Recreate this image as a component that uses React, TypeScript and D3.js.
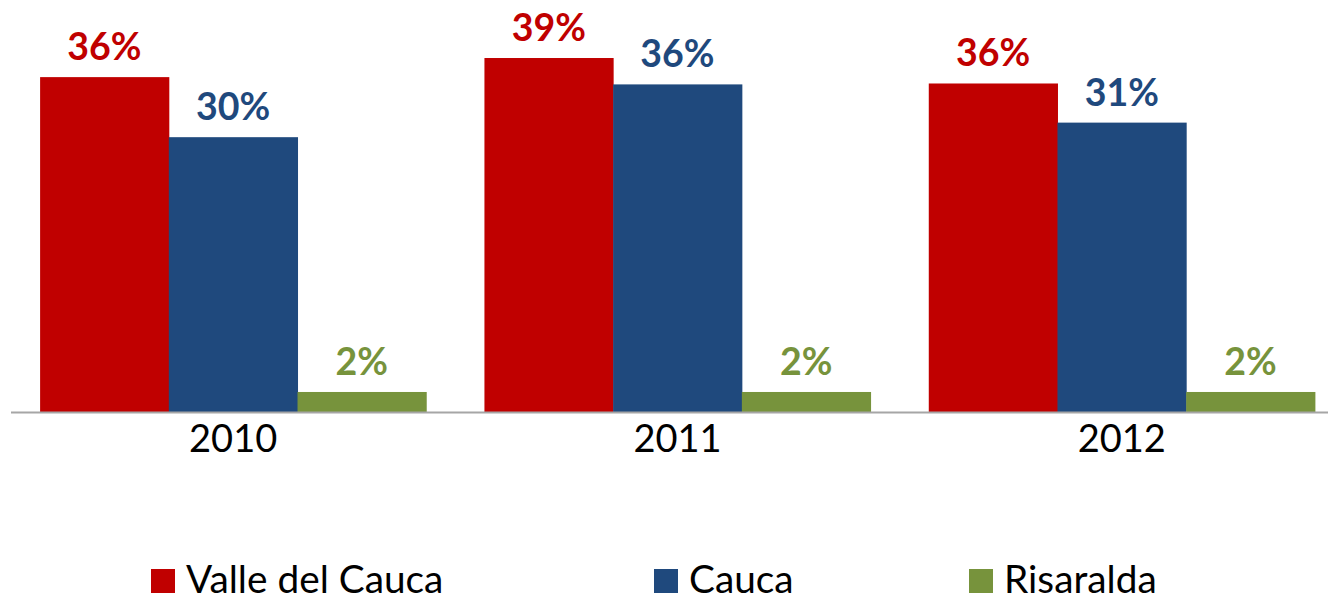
import React from "react";
import * as d3 from "d3";

const years = ["2010", "2011", "2012"];
const seriesNames = ["Valle del Cauca", "Cauca", "Risaralda"];
const seriesColors = ["#C00000", "#1F497D", "#77933C"];
const valleValues = [36.8, 38.9, 36.1];
const caucaValues = [30.2, 36.0, 31.8];
const risaraldaValues = [2.2, 2.2, 2.2];
const valleLabels = ["36%", "39%", "36%"];
const caucaLabels = ["30%", "36%", "31%"];
const risaraldaLabels = ["2%", "2%", "2%"];

const W = 1328;
const H = 596;

export default function App() {
  const allValues = [valleValues, caucaValues, risaraldaValues];
  const allLabels = [valleLabels, caucaLabels, risaraldaLabels];
  const x0 = d3.scaleBand<string>().domain(years).range([11, 1344]).paddingInner(0.131).paddingOuter(0.0655);
  const x1 = d3.scaleBand<string>().domain(seriesNames).range([0, x0.bandwidth()]);
  const y = d3.scaleLinear().domain([0, 45]).range([412, 2.5]);
  const legendX = [151, 654, 969];
  const font = "Lato, 'Open Sans', sans-serif";

  return (
    <svg width={W} height={H} style={{ position: "absolute", left: 0, top: 0, background: "#fff" }}>
      {years.map((yr, gi) => (
        <g key={yr} transform={`translate(${x0(yr)},0)`}>
          {seriesNames.map((s, si) => {
            const v = allValues[si][gi];
            const bx = x1(s)!;
            return (
              <g key={s}>
                <rect x={bx} y={y(v)} width={x1.bandwidth() + 0.5} height={y(0) - y(v)} fill={seriesColors[si]} />
                <text
                  x={bx + x1.bandwidth() / 2}
                  y={y(v) - 17}
                  textAnchor="middle"
                  fontFamily={font}
                  fontWeight="bold"
                  fontSize={37.5}
                  fill={seriesColors[si]}
                >
                  {allLabels[si][gi]}
                </text>
              </g>
            );
          })}
        </g>
      ))}
      <line x1={11} x2={W} y1={412.5} y2={412.5} stroke="#a6a6a6" strokeWidth={2} />
      {years.map((yr) => (
        <text key={yr} x={x0(yr)! + x0.bandwidth() / 2} y={451.5} textAnchor="middle" fontFamily={font} fontSize={38} fill="#000">
          {yr}
        </text>
      ))}
      {seriesNames.map((s, i) => (
        <g key={s}>
          <rect x={legendX[i]} y={569} width={24} height={24} fill={seriesColors[i]} />
          <text x={legendX[i] + 35} y={592.5} fontFamily={font} fontSize={38.8} fill="#000">
            {s}
          </text>
        </g>
      ))}
    </svg>
  );
}
